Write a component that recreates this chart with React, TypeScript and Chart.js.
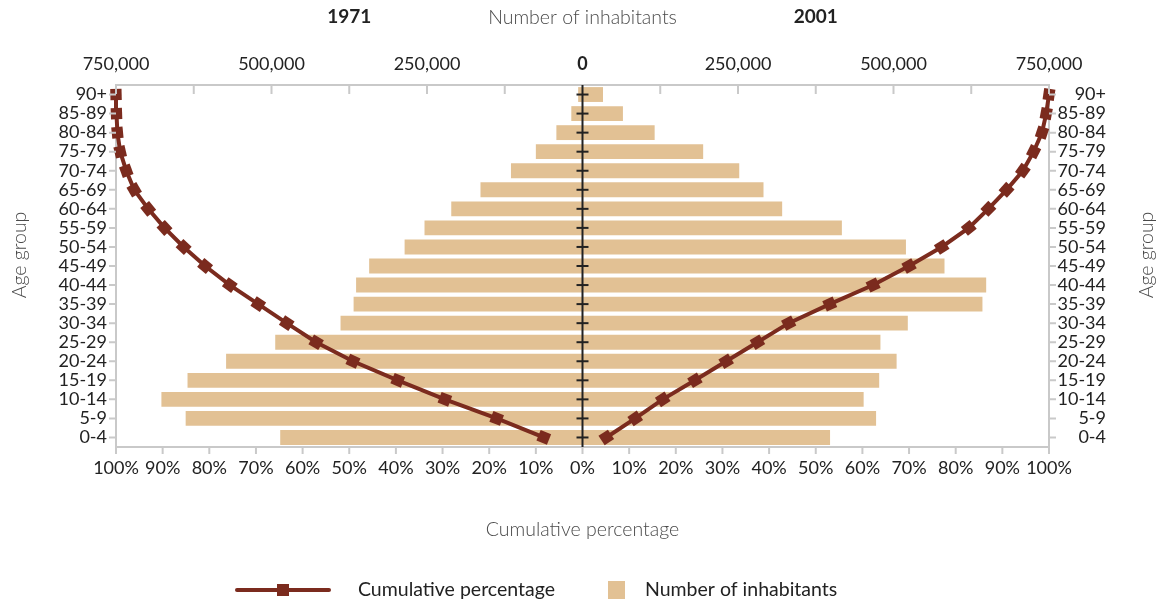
import React, { useEffect, useRef } from "react";
import { Chart, registerables } from "chart.js";

Chart.register(...registerables);

// ---------- data (bottom age group first) ----------
const AGE_GROUPS = [
  "0-4", "5-9", "10-14", "15-19", "20-24", "25-29", "30-34", "35-39", "40-44",
  "45-49", "50-54", "55-59", "60-64", "65-69", "70-74", "75-79", "80-84", "85-89", "90+",
];

const INHABITANTS_1971 = [
  486000, 638000, 677000, 635000, 573000, 494000, 389000, 368000, 364000,
  343000, 286000, 254000, 211000, 164000, 115000, 75000, 42000, 18000, 7000,
];

const INHABITANTS_2001 = [
  398000, 472000, 452000, 477000, 505000, 479000, 523000, 643000, 649000,
  582000, 520000, 417000, 321000, 291000, 252000, 194000, 116000, 65000, 33000,
];

const CUMULATIVE_1971 = [
  8.3, 18.4, 29.5, 39.6, 49.2, 57.1, 63.4, 69.5, 75.6,
  80.9, 85.5, 89.6, 93.1, 96.1, 97.8, 99.1, 99.7, 99.9, 100,
];

const CUMULATIVE_2001 = [
  5.1, 11.3, 17.2, 24.1, 30.8, 37.5, 44.2, 53.0, 62.3,
  70.0, 77.0, 82.8, 87.0, 90.9, 94.4, 96.7, 98.5, 99.4, 100,
];

const COUNT_MAX = 750000;
const COUNT_STEP = 125000;
const COUNT_LABEL_STEP = 250000;
const PCT_MAX = 100;
const PCT_STEP = 10;

const YEAR_LEFT = "1971";
const YEAR_RIGHT = "2001";
const TOP_TITLE = "Number of inhabitants";
const BOTTOM_TITLE = "Cumulative percentage";
const SIDE_TITLE = "Age group";
const LEGEND_LINE = "Cumulative percentage";
const LEGEND_BAR = "Number of inhabitants";

// ---------- styles ----------
const FONT = "Lato, 'Open Sans', 'DejaVu Sans', sans-serif";
const BAR_COLOR = "#e2c194";
const LINE_COLOR = "#7b2b1e";
const GRID_COLOR = "#c9c9c9";
const TEXT_DARK = "#222222";
const TEXT_GREY = "#4a4a4a";
const W = 1159;
const H = 604;

function rotationFor(ctx: any): number {
  const chart = ctx.chart;
  const xs = chart.scales?.x2;
  const ys = chart.scales?.y;
  const data = ctx.dataset?.data as number[];
  if (!xs || !ys || !data || ctx.dataIndex === undefined) return 0;
  const i = ctx.dataIndex;
  const a = Math.max(0, i - 1);
  const b = Math.min(data.length - 1, i + 1);
  const dx = xs.getPixelForValue(data[b]) - xs.getPixelForValue(data[a]);
  const dy = ys.getPixelForValue(b) - ys.getPixelForValue(a);
  return (Math.atan2(dy, dx) * 180) / Math.PI;
}

const decorPlugin = {
  id: "decor",
  afterDatasetsDraw(chart: any) {
    const { ctx, chartArea: a, scales } = chart;
    const xs = scales.x;
    const x2 = scales.x2;
    const ys = scales.y;
    ctx.save();
    ctx.lineCap = "butt";
    // top inner ticks
    ctx.strokeStyle = GRID_COLOR;
    ctx.lineWidth = 2;
    xs.ticks.forEach((t: any) => {
      const px = xs.getPixelForValue(t.value);
      if (t.value === 0) return;
      ctx.beginPath();
      ctx.moveTo(px, a.top);
      ctx.lineTo(px, a.top + 9);
      ctx.stroke();
    });
    // bottom outer ticks
    x2.ticks.forEach((t: any) => {
      const px = x2.getPixelForValue(t.value);
      ctx.beginPath();
      ctx.moveTo(px, a.bottom);
      ctx.lineTo(px, a.bottom + 7);
      ctx.stroke();
    });
    // side ticks
    AGE_GROUPS.forEach((_, i) => {
      const py = ys.getPixelForValue(i);
      ctx.beginPath();
      ctx.moveTo(a.left - 7, py);
      ctx.lineTo(a.left, py);
      ctx.moveTo(a.right, py);
      ctx.lineTo(a.right + 7, py);
      ctx.stroke();
    });
    // centre axis
    const cx = xs.getPixelForValue(0);
    ctx.strokeStyle = TEXT_DARK;
    ctx.lineWidth = 2;
    ctx.beginPath();
    ctx.moveTo(cx, a.top);
    ctx.lineTo(cx, a.bottom);
    ctx.stroke();
    AGE_GROUPS.forEach((_, i) => {
      const py = ys.getPixelForValue(i);
      ctx.beginPath();
      ctx.moveTo(cx - 6, py);
      ctx.lineTo(cx + 6, py);
      ctx.stroke();
    });
    ctx.restore();
  },
  afterDraw(chart: any) {
    const { ctx, chartArea: a, scales } = chart;
    const xs = scales.x;
    const cx = xs.getPixelForValue(0);
    ctx.save();
    ctx.textBaseline = "middle";
    ctx.textAlign = "center";
    // titles
    ctx.fillStyle = TEXT_DARK;
    ctx.font = `bold 19px ${FONT}`;
    ctx.fillText(YEAR_LEFT, (a.left + cx) / 2, 17);
    ctx.fillText(YEAR_RIGHT, (a.right + cx) / 2, 17);
    ctx.fillStyle = TEXT_GREY;
    ctx.font = `300 19.5px ${FONT}`;
    ctx.fillText(TOP_TITLE, cx, 18);
    ctx.fillText(BOTTOM_TITLE, cx, 530);
    const midY = (a.top + a.bottom) / 2 - 11;
    [20, 1147].forEach((x) => {
      ctx.save();
      ctx.translate(x, midY);
      ctx.rotate(-Math.PI / 2);
      ctx.fillText(SIDE_TITLE, 0, 0);
      ctx.restore();
    });
    // legend
    const ly = 590;
    ctx.strokeStyle = LINE_COLOR;
    ctx.lineWidth = 4;
    ctx.lineCap = "round";
    ctx.beginPath();
    ctx.moveTo(237, ly);
    ctx.lineTo(329, ly);
    ctx.stroke();
    ctx.fillStyle = LINE_COLOR;
    ctx.fillRect(277, ly - 6, 12, 12);
    ctx.fillStyle = BAR_COLOR;
    ctx.fillRect(608, ly - 9, 17, 18);
    ctx.fillStyle = TEXT_DARK;
    ctx.textAlign = "left";
    ctx.font = `19.5px ${FONT}`;
    ctx.fillText(LEGEND_LINE, 358, ly);
    ctx.fillText(LEGEND_BAR, 645, ly);
    ctx.restore();
  },
};

export default function App() {
  const canvasRef = useRef<HTMLCanvasElement | null>(null);

  useEffect(() => {
    const canvas = canvasRef.current;
    if (!canvas) return;
    const tickFont = { family: FONT, size: 18 };
    const lineDataset = (label: string, data: number[]) =>
      ({
        type: "line",
        label,
        data,
        indexAxis: "y",
        xAxisID: "x2",
        yAxisID: "y",
        borderColor: LINE_COLOR,
        backgroundColor: LINE_COLOR,
        borderWidth: 4,
        pointStyle: "rect",
        pointRadius: 8,
        pointBorderWidth: 0,
        pointRotation: rotationFor,
        clip: false,
        order: 0,
      }) as any;
    const barDataset = (label: string, data: number[]) =>
      ({
        type: "bar",
        label,
        data,
        xAxisID: "x",
        yAxisID: "y",
        backgroundColor: BAR_COLOR,
        borderWidth: 0,
        barPercentage: 0.78,
        categoryPercentage: 1,
        order: 1,
      }) as any;
    const chart = new Chart(canvas, {
      type: "bar",
      data: {
        labels: AGE_GROUPS,
        datasets: [
          lineDataset(`${LEGEND_LINE} ${YEAR_LEFT}`, CUMULATIVE_1971.map((v) => -v)),
          lineDataset(`${LEGEND_LINE} ${YEAR_RIGHT}`, CUMULATIVE_2001),
          barDataset(`${LEGEND_BAR} ${YEAR_LEFT}`, INHABITANTS_1971.map((v) => -v)),
          barDataset(`${LEGEND_BAR} ${YEAR_RIGHT}`, INHABITANTS_2001),
        ],
      },
      options: {
        indexAxis: "y",
        animation: false,
        responsive: false,
        layout: { padding: { left: 0, right: 53, top: 0, bottom: 0 } },
        plugins: {
          legend: { display: false },
          tooltip: { enabled: false },
          title: { display: false },
        },
        scales: {
          x: {
            type: "linear",
            position: "top",
            stacked: true,
            min: -COUNT_MAX,
            max: COUNT_MAX,
            grid: { display: false, drawTicks: false },
            border: { display: true, color: GRID_COLOR, width: 2 },
            ticks: {
              stepSize: COUNT_STEP,
              autoSkip: false,
              maxRotation: 0,
              padding: 10,
              color: TEXT_DARK,
              font: (c: any) =>
                c.tick && c.tick.value === 0
                  ? { family: FONT, size: 18, weight: "bold" }
                  : tickFont,
              callback: (v: any) => {
                const n = Math.round(Math.abs(Number(v)));
                return n % COUNT_LABEL_STEP === 0 ? n.toLocaleString("en-US") : "";
              },
            },
            afterFit: (s: any) => {
              s.height = 85;
            },
          },
          x2: {
            type: "linear",
            position: "bottom",
            min: -PCT_MAX,
            max: PCT_MAX,
            grid: { display: false, drawTicks: false },
            border: { display: true, color: GRID_COLOR, width: 2 },
            ticks: {
              stepSize: PCT_STEP,
              autoSkip: false,
              maxRotation: 0,
              padding: 10,
              color: TEXT_DARK,
              font: tickFont,
              callback: (v: any) => `${Math.round(Math.abs(Number(v)))}%`,
            },
            afterFit: (s: any) => {
              s.height = H - 447;
            },
          },
          y: {
            type: "category",
            position: "left",
            stacked: true,
            reverse: true,
            offset: true,
            grid: { display: false, drawTicks: false },
            border: { display: true, color: GRID_COLOR, width: 2 },
            ticks: {
              autoSkip: false,
              padding: 9,
              color: TEXT_DARK,
              font: tickFont,
            },
            afterFit: (s: any) => {
              s.width = 116;
            },
          },
          y2: {
            type: "category",
            position: "right",
            reverse: true,
            offset: true,
            grid: { display: false, drawTicks: false },
            border: { display: true, color: GRID_COLOR, width: 2 },
            ticks: {
              autoSkip: false,
              padding: 9,
              crossAlign: "far",
              color: TEXT_DARK,
              font: tickFont,
            },
            afterFit: (s: any) => {
              s.width = 1106 - 1049;
            },
          },
        },
      } as any,
      plugins: [decorPlugin],
    });
    return () => chart.destroy();
  }, []);

  return (
    <div style={{ position: "absolute", left: 0, top: 0, width: W, height: H, background: "#fff" }}>
      <canvas ref={canvasRef} width={W} height={H} style={{ display: "block" }} />
    </div>
  );
}
